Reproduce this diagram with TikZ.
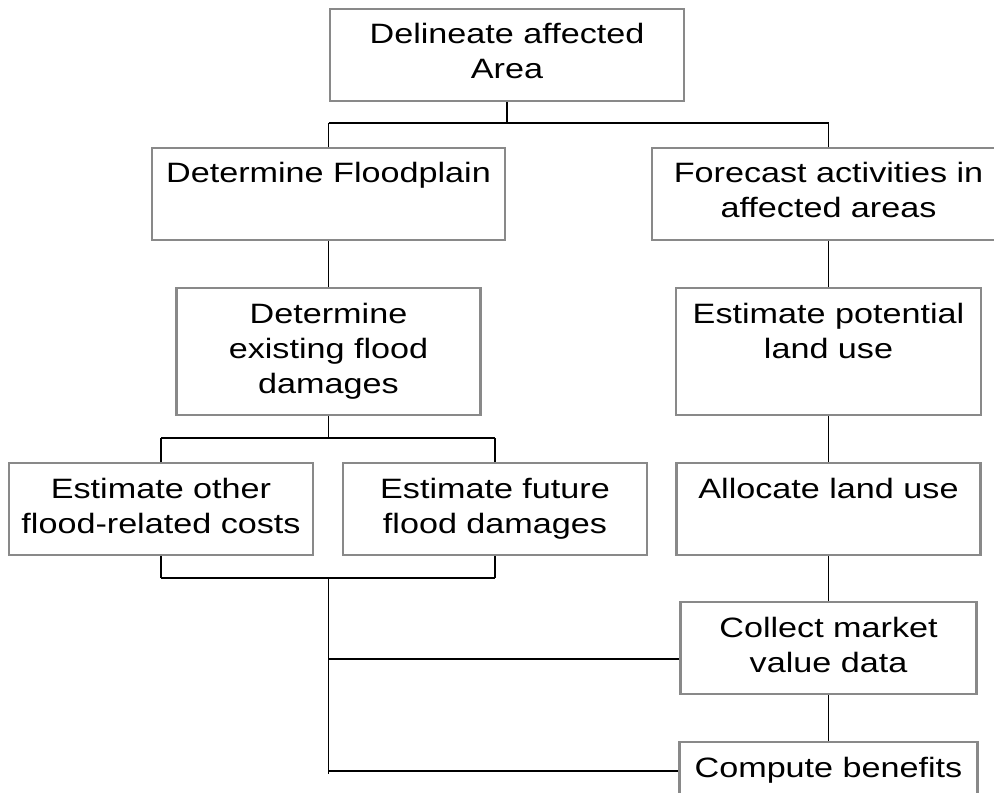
\documentclass[tikz,border=0pt]{standalone}
\usepackage{fontspec}
\setmainfont{Liberation Sans}[FakeStretch=1.22]
\usepackage{tikz}
\usetikzlibrary{positioning}
\usepackage{xcolor}
\definecolor{boxgray}{RGB}{137,137,137}
\newcommand{\firststrut}{\rule{0pt}{13.75pt}}
\newcommand{\laststrut}{\rule[-3.75pt]{0pt}{3.75pt}}
\tikzstyle{stepbox} = [rectangle, anchor=north, align=center, draw=boxgray, line width=1.1pt, inner xsep=2pt, inner ysep=5.5pt, font=\fontsize{14pt}{17.5pt}\selectfont, execute at begin node=\firststrut, execute at end node=\laststrut]
\tikzstyle{link} = [line width=0.85pt, color=black]
\tikzstyle{bar} = [line width=1.1pt, color=black]

\begin{document}
\begin{tikzpicture}[x=0.5pt, y=-0.5pt]
\useasboundingbox (0,0) rectangle (994,792);
% Top node
\node (area) [stepbox, minimum width=177pt, minimum height=46pt] at (507,8) {Delineate affected\\Area};

% Left branch
\node (flood) [stepbox, minimum width=176.5pt, minimum height=46pt] at (328.5,147) {Determine Floodplain\\\mbox{}};
\node (existing) [stepbox, minimum width=152pt, minimum height=63.5pt] at (328.5,287) {Determine\\existing flood\\damages};
\node (other) [stepbox, minimum width=152pt, minimum height=46pt] at (161,462) {Estimate other\\flood-related costs};
\node (future) [stepbox, minimum width=152pt, minimum height=46pt] at (495,462) {Estimate future\\flood damages};

% Right branch
\node (forecast) [stepbox, minimum width=176.5pt, minimum height=46pt] at (828.5,147) {Forecast activities in\\affected areas};
\node (potential) [stepbox, minimum width=152.5pt, minimum height=63.5pt] at (828.5,287) {Estimate potential\\land use\\\mbox{}};
\node (allocate) [stepbox, minimum width=152pt, minimum height=46pt] at (828.5,462) {Allocate land use\\\mbox{}};
\node (market) [stepbox, minimum width=148pt, minimum height=46pt] at (828.5,601) {Collect market\\value data};
\node (benefits) [stepbox, minimum width=149pt, minimum height=46pt] at (828.5,741) {Compute benefits\\\mbox{}};

% Junction points
\coordinate (topbar) at (507,123);
\coordinate (midbar) at (328.5,438);
\coordinate (lowbar) at (328.5,578);
\coordinate (tapmarket) at (328.5,659);
\coordinate (tapbenefits) at (328.5,771);
\coordinate (spine) at (328.5,774);

% Split below top node
\draw[link] (area.south) -- (topbar);
\draw[bar] (flood.north |- topbar) -- (forecast.north |- topbar);
\draw[link] (flood.north) -- (flood.north |- topbar);
\draw[link] (forecast.north) -- (forecast.north |- topbar);

% Left column
\draw[link] (flood.south) -- (existing.north);
\draw[link] (existing.south) -- (midbar);
\draw[bar] (other.north |- midbar) -- (future.north |- midbar);
\draw[link] (other.north) -- (other.north |- midbar);
\draw[link] (future.north) -- (future.north |- midbar);
\draw[link] (other.south) -- (other.south |- lowbar);
\draw[link] (future.south) -- (future.south |- lowbar);
\draw[bar] (other.south |- lowbar) -- (future.south |- lowbar);
\draw[link] (lowbar) -- (spine);

% Right column
\draw[link] (forecast.south) -- (potential.north);
\draw[link] (potential.south) -- (allocate.north);
\draw[link] (allocate.south) -- (market.north);
\draw[link] (market.south) -- (benefits.north);

% Feeds into right column
\draw[bar] (tapmarket) -- (tapmarket -| market.west);
\draw[bar] (tapbenefits) -- (tapbenefits -| benefits.west);
\end{tikzpicture}
\end{document}
